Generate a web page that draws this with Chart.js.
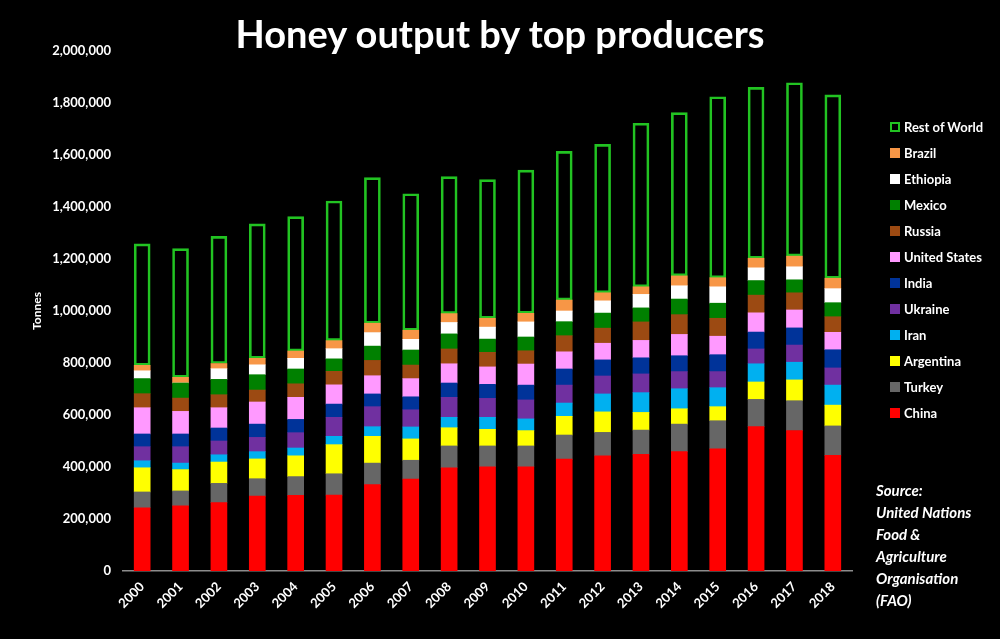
<!DOCTYPE html>
<html>
<head>
<meta charset="utf-8">
<script src="https://cdn.jsdelivr.net/npm/chart.js@4.4.1/dist/chart.umd.min.js"></script>
<style>
  html, body { margin: 0; padding: 0; background: #000; }
  #wrap { position: relative; width: 1000px; height: 639px; background: #000; overflow: hidden; }
  #c { position: absolute; left: 0; top: 0; }
  #title { position: absolute; left: 0; width: 1000px; top: 8px; text-align: center; color: #fff;
    font-family: Lato, "Open Sans", sans-serif; font-weight: 700; font-size: 38px; line-height: 50px; }
  #legend { position: absolute; left: 890px; top: 114px; font-family: Lato, sans-serif; font-weight: 700;
    font-size: 13px; color: #fff; }
  .li { height: 26px; display: flex; align-items: center; white-space: nowrap; margin-top: 0; }
  .li span.box { display: inline-block; width: 10px; height: 10px; margin-right: 4px; box-sizing: border-box; }
  #source { position: absolute; left: 876px; top: 479px; font-family: Lato, sans-serif; font-weight: 700;
    font-style: italic; font-size: 15px; line-height: 22px; color: #fff; }
</style>
</head>
<body>
<div id="wrap">
  <canvas id="c" width="1000" height="639"></canvas>
  <div id="title">Honey output by top producers</div>
  <div id="legend"></div>
  <div id="source">Source:<br>United Nations<br>Food &amp;<br>Agriculture<br>Organisation<br>(FAO)</div>
</div>
<script>
const years = ["2000","2001","2002","2003","2004","2005","2006","2007","2008","2009","2010","2011","2012","2013","2014","2015","2016","2017","2018"];
const yTicks = [0,200000,400000,600000,800000,1000000,1200000,1400000,1600000,1800000,2000000];

// values in thousand tonnes
const china     = [243,251,263,288,291,292,332,354,397,401,401,430,443,449,459,470,555,540,445];
const turkey    = [61,57,74,67,72,82,83,72,84,80,80,93,90,93,106,108,105,115,113];
const argentina = [93,82,82,76,80,112,103,82,70,64,59,72,79,68,59,54,67,80,80];
const iran      = [27,25,28,28,30,32,37,46,40,46,45,51,69,76,77,73,70,68,77];
const ukraine   = [54,63,53,55,59,73,77,66,77,73,73,69,69,72,66,62,57,66,66];
const india     = [49,49,50,51,51,51,49,50,55,54,57,62,62,62,61,65,65,66,70];
const usa       = [101,87,78,85,85,74,70,70,74,67,81,66,64,67,82,71,74,69,67];
const russia    = [54,51,50,46,52,52,59,52,57,56,51,62,58,71,76,69,68,66,60];
const mexico    = [58,58,59,59,57,48,55,58,58,51,53,54,58,54,60,58,56,50,54];
const ethiopia  = [30,0,41,38,41,39,52,41,44,46,58,41,47,52,51,63,49,50,54];
const brazil    = [21,22,20,25,28,31,36,35,34,34,33,42,31,29,38,35,37,41,40];
const restWorld = [467,495,489,517,517,537,560,525,527,533,551,572,571,629,628,696,657,667,705];

const seriesNames  = ["China","Turkey","Argentina","Iran","Ukraine","India","United States","Russia","Mexico","Ethiopia","Brazil","Rest of World"];
const seriesValues = [china,turkey,argentina,iran,ukraine,india,usa,russia,mexico,ethiopia,brazil,restWorld];
const seriesColors = ["#ff0000","#666666","#ffff00","#00b0f0","#7030a0","#003399","#ff99ff","#9c4a12","#008000","#ffffff","#f79646","#22c322"];

const datasets = seriesNames.map((name, i) => {
  const isRest = name === "Rest of World";
  return {
    label: name,
    data: seriesValues[i].map(v => v * 1000),
    backgroundColor: isRest ? "rgba(0,0,0,0)" : seriesColors[i],
    borderColor: seriesColors[i],
    borderWidth: isRest ? 2 : 0,
    borderSkipped: false,
    barThickness: 16,
    stack: "s"
  };
});

const tickFont = { family: "Lato, 'Open Sans', sans-serif", weight: "bold", size: 13 };

new Chart(document.getElementById("c"), {
  type: "bar",
  data: { labels: years, datasets },
  options: {
    responsive: false,
    animation: false,
    layout: { padding: { left: 0, right: 148, top: 51, bottom: 0 } },
    plugins: { legend: { display: false }, tooltip: { enabled: false }, title: { display: false } },
    scales: {
      x: {
        stacked: true,
        grid: { display: false, drawTicks: false },
        border: { display: true, color: "#8c8c8c", width: 1.5 },
        ticks: { color: "#fff", font: tickFont, minRotation: 45, maxRotation: 45, padding: 8, autoSkip: false },
        afterFit: s => { s.height = 68; }
      },
      y: {
        stacked: true,
        min: 0, max: 2000000,
        afterBuildTicks: s => { s.ticks = yTicks.map(v => ({ value: v })); },
        grid: { display: false, drawTicks: false },
        border: { display: false },
        ticks: { color: "#fff", font: tickFont, padding: 12,
          callback: v => Number(v).toLocaleString("en-US") },
        title: { display: true, text: "Tonnes", color: "#fff",
          font: { family: "Lato, sans-serif", weight: "bold", size: 12 }, padding: { top: 30, bottom: 0 } },
        afterFit: s => { s.width = 123; }
      }
    }
  }
});

// HTML legend built from the series arrays (reversed, like the reference)
const lg = document.getElementById("legend");
for (let i = seriesNames.length - 1; i >= 0; i--) {
  const row = document.createElement("div");
  row.className = "li";
  const box = document.createElement("span");
  box.className = "box";
  if (seriesNames[i] === "Rest of World") {
    box.style.border = "2px solid " + seriesColors[i];
  } else {
    box.style.background = seriesColors[i];
  }
  row.appendChild(box);
  row.appendChild(document.createTextNode(seriesNames[i]));
  lg.appendChild(row);
}
</script>
</body>
</html>
